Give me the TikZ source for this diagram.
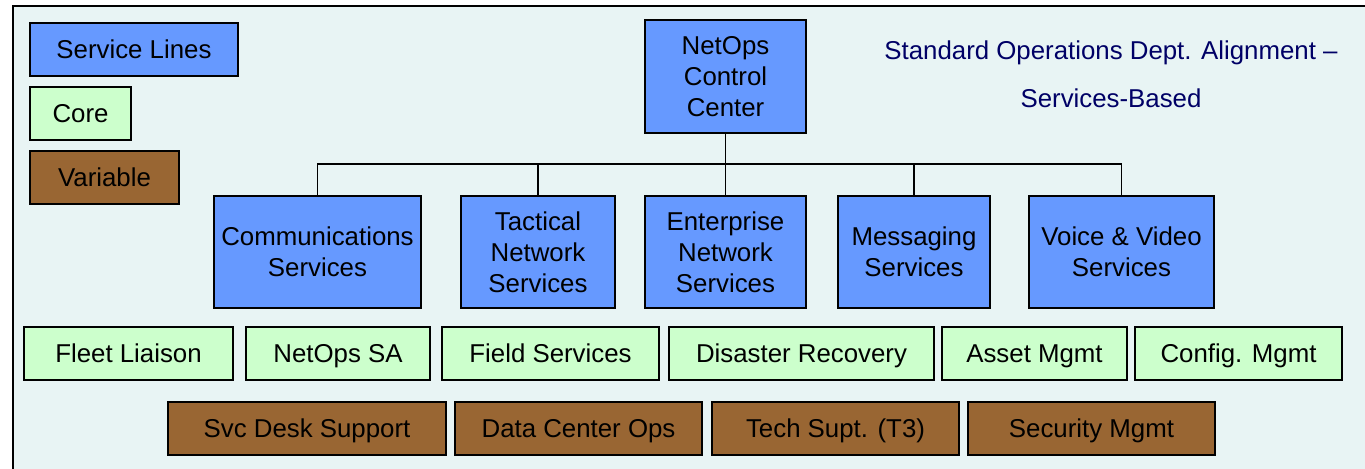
\documentclass[tikz,border=0pt]{standalone}
\usepackage{fontspec}
\setmainfont{Liberation Sans}
\usetikzlibrary{shadows}

\definecolor{bgcyan}{HTML}{E8F4F4}
\definecolor{svcblue}{HTML}{6699FF}
\definecolor{coregreen}{HTML}{CCFFCC}
\definecolor{varbrown}{HTML}{996633}
\definecolor{titlenavy}{HTML}{000066}

\begin{document}
\begin{tikzpicture}[x=0.02cm,y=-0.02cm,
                    box/.style={rectangle,draw,line width=1.1pt,inner sep=0pt,align=center,
                                font=\fontsize{14.7}{17.6}\selectfont,
                                drop shadow={shadow xshift=0.7pt,shadow yshift=-0.7pt,fill=gray!60}},
                    oneline/.style={minimum height=1.06cm,text height=13pt,text depth=2.5pt},
                    svcbox/.style={box,fill=svcblue,minimum height=2.24cm},
                    corebox/.style={box,oneline,fill=coregreen},
                    varbox/.style={box,oneline,fill=varbrown},
                    conn/.style={line width=1.1pt}]

  \useasboundingbox (0,0) rectangle (1365,469);
  % 背景框
  \draw[line width=1.7pt,fill=bgcyan] (13,6) rectangle (1400,500);

  % 图例
  \node[svcbox,oneline,minimum width=4.16cm] (legsvc)  at (134,49.5)   {Service Lines};
  \node[corebox,minimum width=2.02cm]        (legcore) at (80.5,113.5) {Core};
  \node[varbox,minimum width=2.98cm]         (legvar)  at (104.5,177.5) {Variable};

  % 标题
  \node[font=\fontsize{14.7}{27.2}\selectfont,text=titlenavy,align=center] (title) at (1111,74)
       {Standard Operations Dept. Alignment --\\Services-Based};

  % 顶层
  \node[svcbox,minimum width=3.22cm,minimum height=2.26cm] (ncc) at (725.5,76.5) {NetOps\\Control\\Center};

  % 服务线
  \node[svcbox,minimum width=4.14cm] (comm) at (317.5,252) {Communications\\Services};
  \node[svcbox,minimum width=3.08cm] (tac)  at (538,252)   {Tactical\\Network\\Services};
  \node[svcbox,minimum width=3.22cm] (ent)  at (725.5,252) {Enterprise\\Network\\Services};
  \node[svcbox,minimum width=3.04cm] (msg)  at (914,252)   {Messaging\\Services};
  \node[svcbox,minimum width=3.70cm] (vv)   at (1121.5,252) {Voice \& Video\\Services};

  % 连线
  \coordinate (bus) at (725.5,164);
  \draw[conn] (ncc) -- (bus);
  \foreach \s in {comm,tac,ent,msg,vv}
    \draw[conn] (\s.north) |- (bus);

  % 核心
  \node[corebox,minimum width=4.18cm] (fleet)  at (128.5,353.5)  {Fleet Liaison};
  \node[corebox,minimum width=3.68cm] (netsa)  at (338,353.5)    {NetOps SA};
  \node[corebox,minimum width=4.34cm] (field)  at (550.5,353.5)  {Field Services};
  \node[corebox,minimum width=5.30cm] (disrec) at (801.5,353.5)  {Disaster Recovery};
  \node[corebox,minimum width=3.70cm] (asset)  at (1034.5,353.5) {Asset Mgmt};
  \node[corebox,minimum width=4.14cm] (config) at (1238.5,353.5) {Config. Mgmt};

  % 可变
  \node[varbox,minimum width=5.56cm] (svcdesk) at (307,428.5)    {Svc Desk Support};
  \node[varbox,minimum width=4.94cm] (dcops)   at (578.5,428.5)  {Data Center Ops};
  \node[varbox,minimum width=4.94cm] (techsup) at (835.5,428.5)  {Tech Supt. (T3)};
  \node[varbox,minimum width=4.94cm] (secmgmt) at (1091.5,428.5) {Security Mgmt};
\end{tikzpicture}
\end{document}
